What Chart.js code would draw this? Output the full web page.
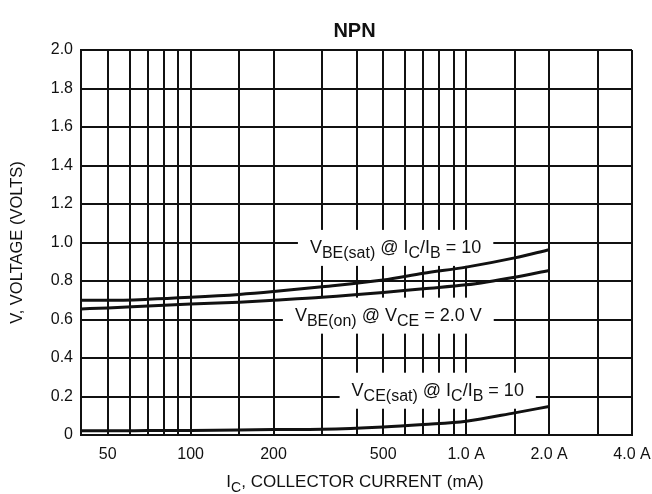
<!DOCTYPE html>
<html>
<head>
<meta charset="utf-8">
<script src="https://cdn.jsdelivr.net/npm/chart.js@4/dist/chart.umd.min.js"></script>
<style>
  html, body { margin: 0; padding: 0; background: #fff; }
</style>
</head>
<body>
<canvas id="npnChart" width="652" height="494"></canvas>
<script>
// Collector current (mA) and the three voltage curves (V)
const currentMa = [40, 50, 70, 100, 150, 200, 300, 500, 700, 1000, 1500, 2000];
const vbeSat = [0.70, 0.70, 0.705, 0.715, 0.73, 0.745, 0.77, 0.805, 0.84, 0.872, 0.92, 0.962];
const vbeOn = [0.655, 0.66, 0.67, 0.68, 0.69, 0.70, 0.715, 0.74, 0.76, 0.78, 0.82, 0.855];
const vceSat = [0.022, 0.022, 0.023, 0.024, 0.026, 0.028, 0.03, 0.042, 0.055, 0.072, 0.115, 0.148];

// Axis grid / tick labels
const xGridValues = [40, 50, 60, 70, 80, 90, 100, 150, 200, 300, 400, 500, 600, 700, 800, 900, 1000, 1500, 2000, 3000, 4000];
const xLabelValues = [50, 100, 200, 500, 1000, 2000, 4000];
const xLabelTexts = ['50', '100', '200', '500', '1.0 A', '2.0 A', '4.0 A'];
const yMin = 0, yMax = 2.0, yStep = 0.2;

const FONT = "'Liberation Sans', Arial, sans-serif";
const INK = '#111';

// Curve labels, anchored in data units (mA, volts) at the text baseline start
const curveLabels = [
    { x: 271, y: 0.946, parts: [['V'], ['BE(sat)', 1], [' @ I'], ['C', 1], ['/I'], ['B', 1], [' = 10']] },
    { x: 239, y: 0.594, parts: [['V'], ['BE(on)', 1], [' @ V'], ['CE', 1], [' = 2.0 V']] },
    { x: 384, y: 0.204, parts: [['V'], ['CE(sat)', 1], [' @ I'], ['C', 1], ['/I'], ['B', 1], [' = 10']] }
];

function toPoints(ys) {
    return currentMa.map((x, i) => ({ x: x, y: ys[i] }));
}

function drawParts(ctx, parts, x, y, size, subSize) {
    let cx = x;
    parts.forEach(p => {
        const sub = p[1] === 1;
        ctx.font = (sub ? subSize : size) + 'px ' + FONT;
        ctx.fillText(p[0], cx, sub ? y + 5 : y);
        cx += ctx.measureText(p[0]).width;
    });
    return cx;
}

function partsWidth(ctx, parts, size, subSize) {
    let w = 0;
    parts.forEach(p => {
        ctx.font = (p[1] === 1 ? subSize : size) + 'px ' + FONT;
        w += ctx.measureText(p[0]).width;
    });
    return w;
}

const textPlugin = {
    id: 'npnText',
    beforeDatasetsDraw(chart) {
        // white gaps in the grid behind each curve label
        const ctx = chart.ctx;
        const xs = chart.scales.x, ys = chart.scales.y;
        ctx.save();
        ctx.fillStyle = '#fff';
        curveLabels.forEach(l => {
            const px = xs.getPixelForValue(l.x);
            const py = ys.getPixelForValue(l.y);
            const w = partsWidth(ctx, l.parts, 18, 16);
            ctx.fillRect(px - 12, py - 23, w + 24, 36);
        });
        ctx.restore();
    },
    afterDatasetsDraw(chart) {
        const ctx = chart.ctx;
        const xs = chart.scales.x, ys = chart.scales.y;
        const area = chart.chartArea;
        ctx.save();
        ctx.fillStyle = INK;
        ctx.textBaseline = 'alphabetic';
        ctx.textAlign = 'left';
        curveLabels.forEach(l => {
            drawParts(ctx, l.parts, xs.getPixelForValue(l.x), ys.getPixelForValue(l.y), 18, 16);
        });

        // title
        ctx.font = 'bold 20px ' + FONT;
        ctx.textAlign = 'center';
        ctx.fillText('NPN', (area.left + area.right) / 2 - 2, 37);

        // x axis title with subscript
        const xParts = [['I'], ['C', 1], [', COLLECTOR CURRENT (mA)']];
        ctx.textAlign = 'left';
        const xw = partsWidth(ctx, xParts, 17, 14);
        drawParts(ctx, xParts, 355 - xw / 2, 487, 17, 14);

        // y axis title
        ctx.translate(17, (area.top + area.bottom) / 2);
        ctx.rotate(-Math.PI / 2);
        ctx.font = '16.5px ' + FONT;
        ctx.textAlign = 'center';
        ctx.textBaseline = 'middle';
        ctx.fillText('V, VOLTAGE (VOLTS)', 0, 0);
        ctx.restore();
    }
};

const curveStyle = {
    borderColor: INK,
    borderWidth: 3,
    pointRadius: 0,
    fill: false,
    cubicInterpolationMode: 'monotone'
};

new Chart(document.getElementById('npnChart'), {
    type: 'line',
    data: {
        datasets: [
            Object.assign({ label: 'VBE(sat)', data: toPoints(vbeSat) }, curveStyle),
            Object.assign({ label: 'VBE(on)', data: toPoints(vbeOn) }, curveStyle),
            Object.assign({ label: 'VCE(sat)', data: toPoints(vceSat) }, curveStyle)
        ]
    },
    options: {
        responsive: false,
        animation: false,
        layout: { padding: { top: 50, right: 20, left: 0, bottom: 0 } },
        plugins: {
            legend: { display: false },
            tooltip: { enabled: false }
        },
        scales: {
            x: {
                type: 'logarithmic',
                min: 40,
                max: 4000,
                afterFit: s => {
                    s.height = 59;
                    s.paddingLeft = 0;
                    s.paddingRight = 0;
                },
                afterBuildTicks: s => { s.ticks = xGridValues.map(v => ({ value: v })); },
                grid: { color: INK, lineWidth: 2, drawTicks: false },
                border: { color: INK, width: 2 },
                ticks: {
                    autoSkip: false,
                    maxRotation: 0,
                    padding: 10,
                    color: INK,
                    font: { family: FONT, size: 16 },
                    callback: v => {
                        const i = xLabelValues.indexOf(v);
                        return i >= 0 ? xLabelTexts[i] : '';
                    }
                }
            },
            y: {
                min: yMin,
                max: yMax,
                afterFit: s => { s.width = 81; },
                grid: { color: INK, lineWidth: 2, drawTicks: false },
                border: { color: INK, width: 2 },
                ticks: {
                    stepSize: yStep,
                    padding: 8,
                    color: INK,
                    font: { family: FONT, size: 16 },
                    callback: v => (Math.abs(v) < 1e-9 ? '0' : v.toFixed(1))
                }
            }
        }
    },
    plugins: [textPlugin]
});
</script>
</body>
</html>
